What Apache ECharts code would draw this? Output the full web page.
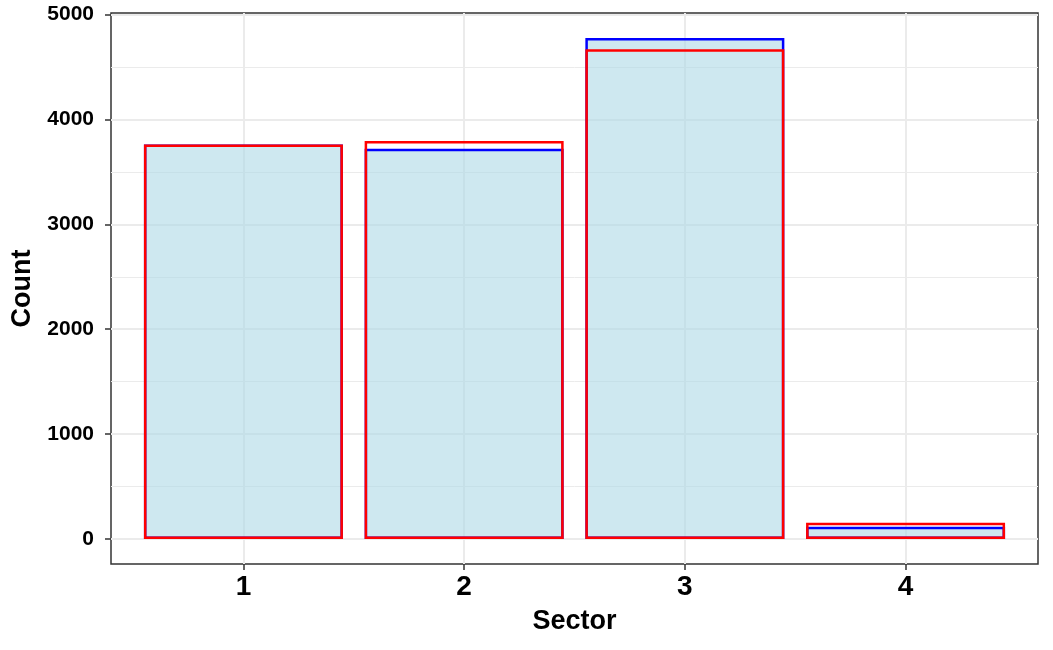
<!DOCTYPE html>
<html>
<head>
<meta charset="utf-8">
<script src="https://cdn.jsdelivr.net/npm/echarts@6/dist/echarts.min.js"></script>
<style>
  * { margin: 0; padding: 0; }
  body { background: #fff; }
  #chart { width: 1053px; height: 650px; }
</style>
</head>
<body>
<div id="chart"></div>
<script>
  // data
  var sectors = [1, 2, 3, 4];
  var blueCounts = [3762, 3720, 4776, 117];
  var redCounts = [3762, 3795, 4668, 155];
  var yMajor = [0, 1000, 2000, 3000, 4000, 5000];
  var yMinor = [500, 1500, 2500, 3500, 4500];

  // ggplot style expansion of the panel
  var yMin = -238.8, yMax = 5014.8;
  var xMin = 0.4, xMax = 4.6;

  var FONT = '"Liberation Sans", Arial, sans-serif';

  function pairs(vals) {
    return sectors.map(function (s, i) { return [s, vals[i]]; });
  }
  function plain(v) { return String(v); }

  var chart = echarts.init(document.getElementById('chart'));
  chart.setOption({
    animation: false,
    backgroundColor: '#ffffff',
    grid: {
      left: 111, right: 15, top: 13, bottom: 86,
      show: true,
      backgroundColor: '#ffffff',
      borderColor: '#333333',
      borderWidth: 1.5
    },
    xAxis: {
      type: 'value',
      min: xMin, max: xMax,
      name: 'Sector',
      nameLocation: 'middle',
      nameGap: 44,
      nameTextStyle: { color: '#000', fontSize: 27, fontWeight: 'bold', fontFamily: FONT },
      axisLine: { show: false, onZero: false },
      axisTick: { show: true, length: 6, customValues: sectors, lineStyle: { color: '#333', width: 1.5 } },
      axisLabel: { customValues: sectors, formatter: plain, margin: 9, color: '#000', fontSize: 28, fontWeight: 'bold', fontFamily: FONT },
      splitLine: { show: true, lineStyle: { color: '#ebebeb', width: 2 } }
    },
    yAxis: [
      {
        type: 'value',
        min: yMin, max: yMax,
        name: 'Count',
        nameLocation: 'middle',
        nameGap: 72,
        nameTextStyle: { color: '#000', fontSize: 27, fontWeight: 'bold', fontFamily: FONT },
        axisLine: { show: false, onZero: false },
        axisTick: { show: true, length: 6, customValues: yMajor, lineStyle: { color: '#333', width: 1.5 } },
        axisLabel: { customValues: yMajor, formatter: plain, margin: 17, color: '#000', fontSize: 21, fontWeight: 'bold', fontFamily: FONT },
        splitLine: { show: true, lineStyle: { color: '#ebebeb', width: 2 } }
      },
      {
        type: 'value',
        min: yMin, max: yMax,
        position: 'left',
        axisLine: { show: false, onZero: false },
        axisTick: { show: false, customValues: yMinor },
        axisLabel: { show: false, customValues: yMinor },
        splitLine: { show: true, lineStyle: { color: '#ebebeb', width: 1 } }
      }
    ],
    series: [
      {
        name: 'blue',
        type: 'bar',
        yAxisIndex: 0,
        barWidth: 199,
        barGap: '-100%',
        data: pairs(blueCounts),
        itemStyle: { color: 'rgba(173,216,230,0.6)', borderColor: '#0000ff', borderWidth: 2.5 }
      },
      {
        name: 'red',
        type: 'bar',
        yAxisIndex: 0,
        barWidth: 199,
        barGap: '-100%',
        data: pairs(redCounts),
        itemStyle: { color: 'rgba(0,0,0,0)', borderColor: '#ff0000', borderWidth: 2.5 }
      }
    ]
  });
</script>
</body>
</html>
